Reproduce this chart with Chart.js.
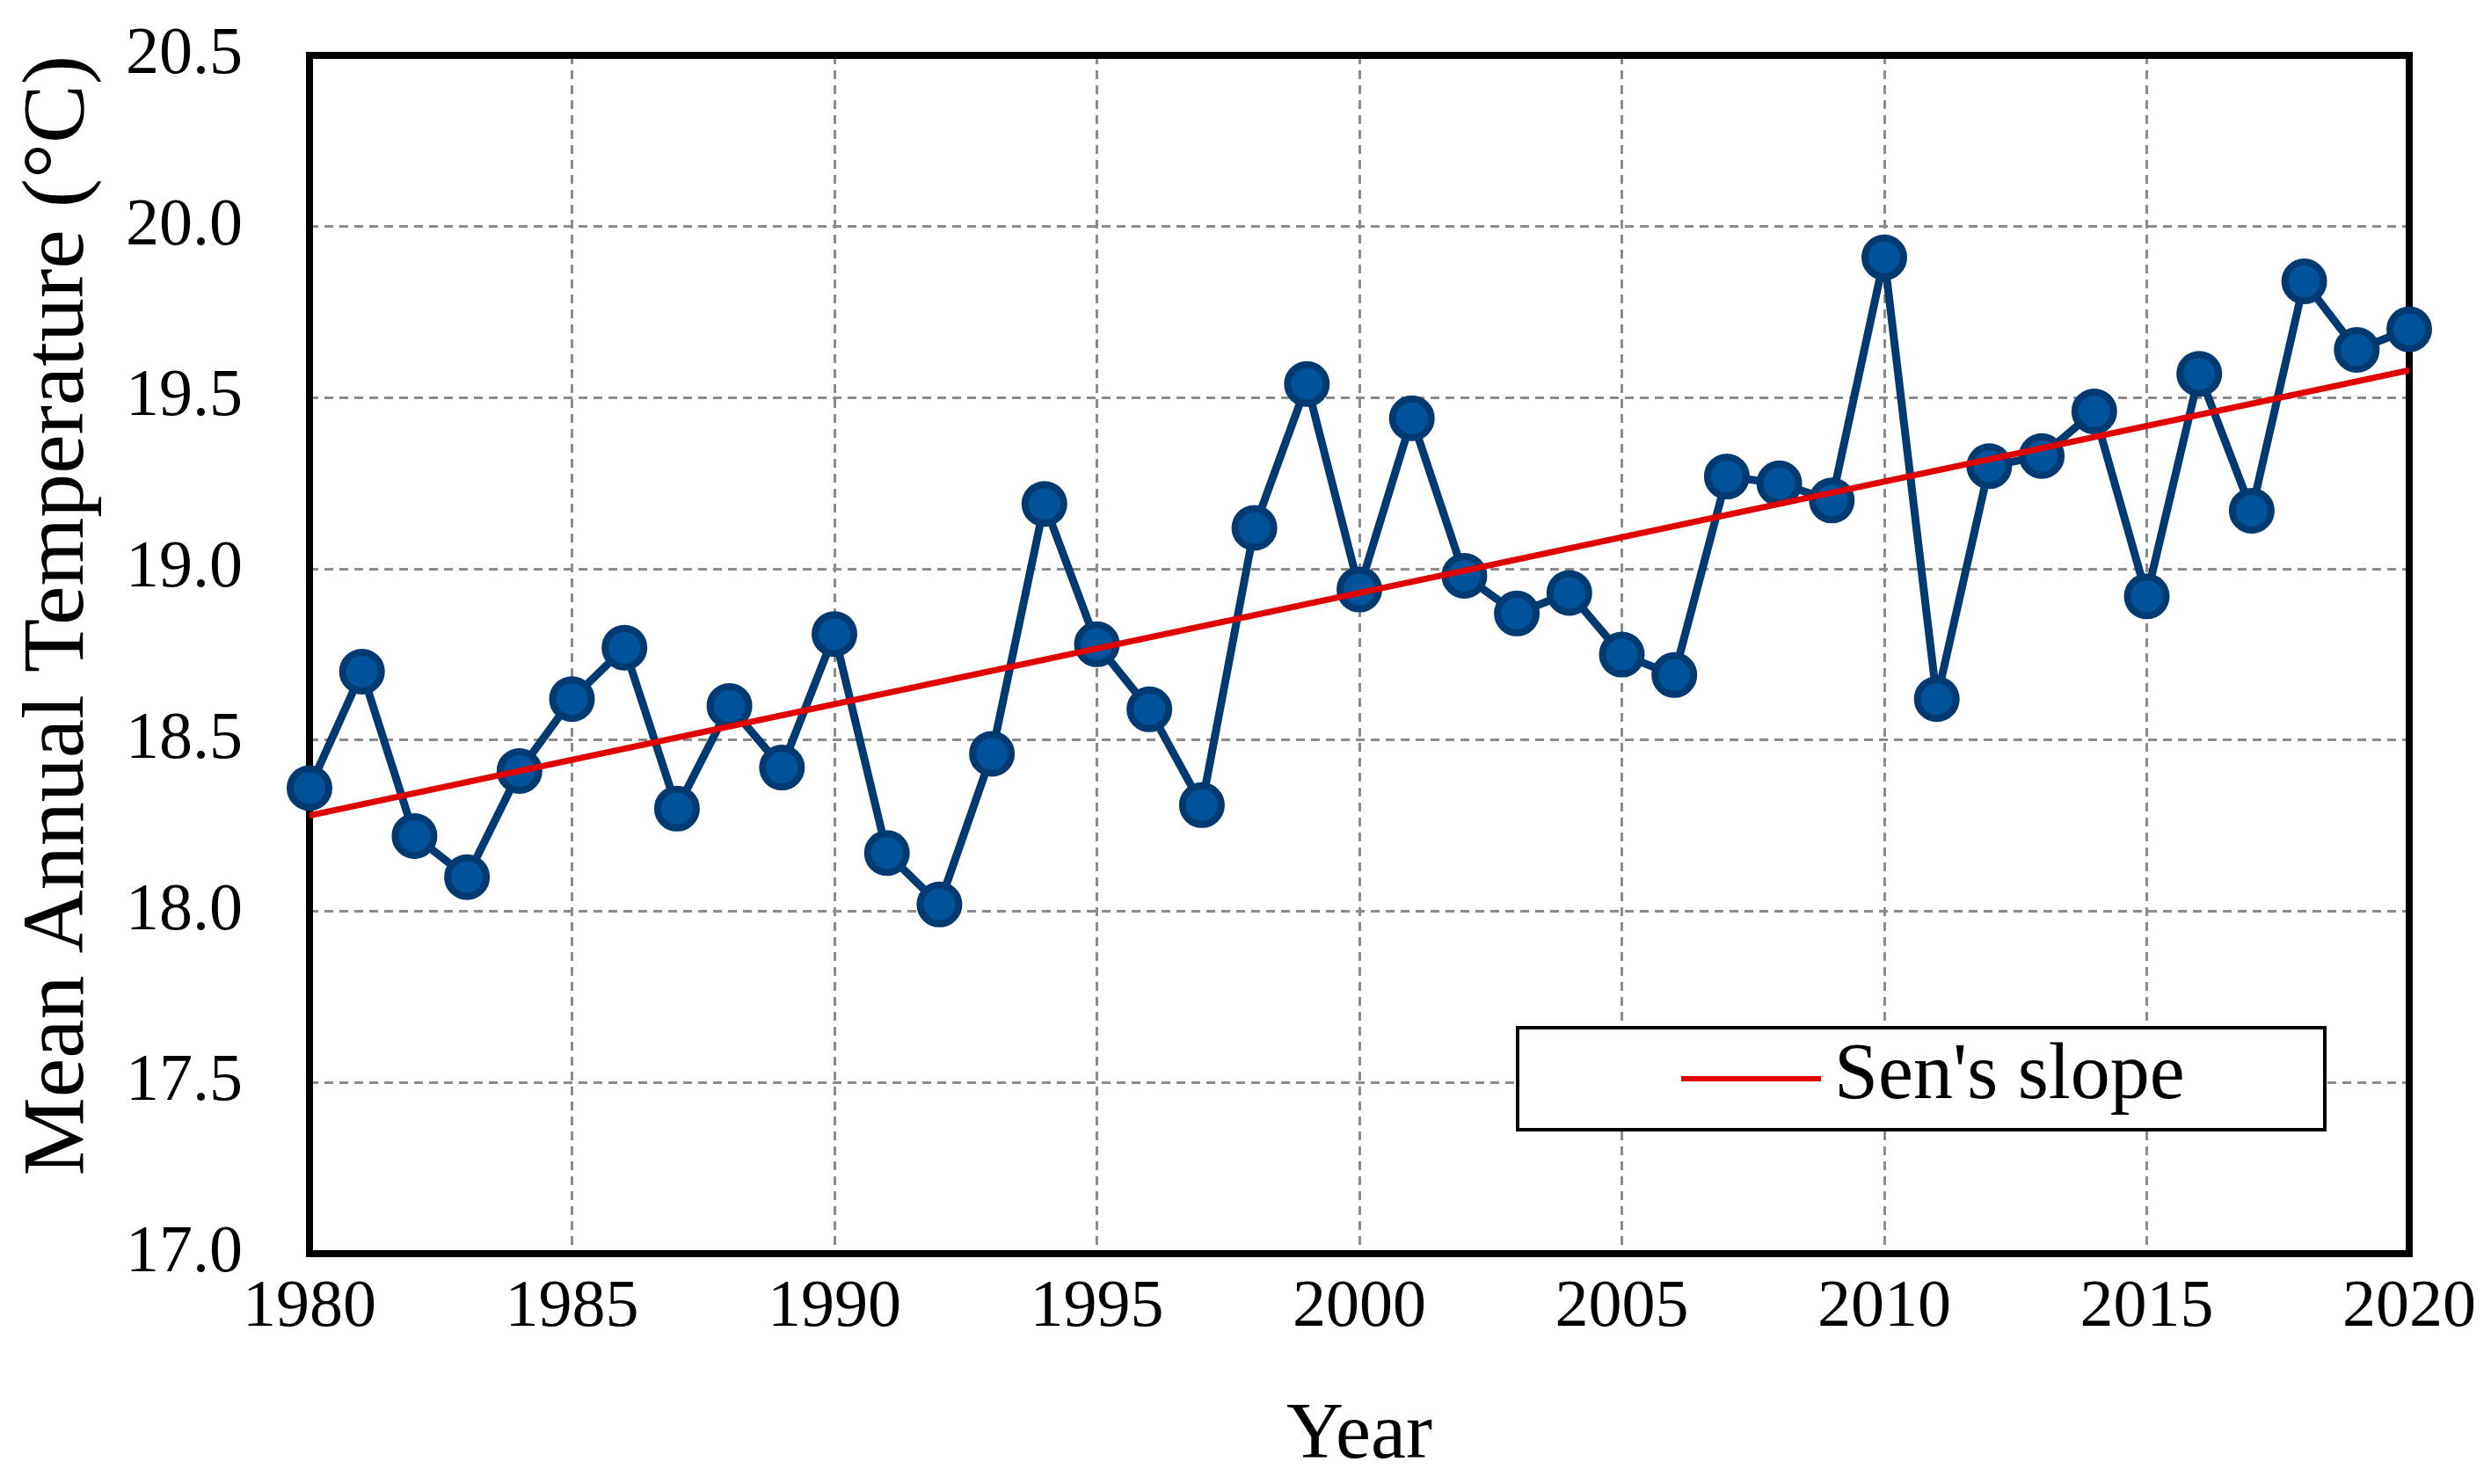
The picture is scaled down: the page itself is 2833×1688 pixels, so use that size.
<!DOCTYPE html>
<html>
<head>
<meta charset="utf-8">
<script src="https://cdn.jsdelivr.net/npm/chart.js@4.4.1/dist/chart.umd.min.js"></script>
<style>
  html, body { margin: 0; padding: 0; background: #fff; }
  #grafica { display: block; }
</style>
</head>
<body>
<canvas id="grafica" width="2833" height="1688"></canvas>
<script>
// datos
const anios = [1980, 1981, 1982, 1983, 1984, 1985, 1986, 1987, 1988, 1989,
  1990, 1991, 1992, 1993, 1994, 1995, 1996, 1997, 1998, 1999,
  2000, 2001, 2002, 2003, 2004, 2005, 2006, 2007, 2008, 2009,
  2010, 2011, 2012, 2013, 2014, 2015, 2016, 2017, 2018, 2019, 2020];
const temperatura = [18.36, 18.70, 18.22, 18.10, 18.41, 18.62, 18.77, 18.30, 18.60, 18.42,
  18.81, 18.17, 18.02, 18.46, 19.19, 18.78, 18.59, 18.31, 19.12, 19.54,
  18.94, 19.44, 18.98, 18.87, 18.93, 18.75, 18.69, 19.27, 19.25, 19.20,
  19.91, 18.62, 19.30, 19.33, 19.46, 18.92, 19.57, 19.17, 19.84, 19.64, 19.70];
const senAnios = [1980, 2020];
const senValores = [18.28, 19.58];
const ticksY = [17.0, 17.5, 18.0, 18.5, 19.0, 19.5, 20.0, 20.5];
const ticksX = [1980, 1985, 1990, 1995, 2000, 2005, 2010, 2015, 2020];

const fuente = "'Palatino Linotype', 'Book Antiqua', Palatino, 'Liberation Serif', serif";

// marco negro alrededor del area
const marco = {
  id: 'marco',
  beforeDatasetsDraw(chart) {
    const { ctx, chartArea: a } = chart;
    ctx.save();
    ctx.strokeStyle = '#000';
    ctx.lineWidth = 8;
    ctx.strokeRect(a.left, a.top, a.right - a.left, a.bottom - a.top);
    ctx.restore();
  }
};

// leyenda dentro del grafico
const leyenda = {
  id: 'leyenda',
  afterDatasetsDraw(chart) {
    const { ctx, chartArea: a } = chart;
    const ds = chart.data.datasets[0];
    const x0 = a.right - 918 - 96, y0 = a.bottom - 116 - 141;
    ctx.save();
    ctx.fillStyle = '#fff';
    ctx.fillRect(x0, y0, 918, 116);
    ctx.strokeStyle = '#000';
    ctx.lineWidth = 4;
    ctx.strokeRect(x0, y0, 918, 116);
    ctx.strokeStyle = ds.borderColor;
    ctx.lineWidth = 6;
    ctx.beginPath();
    ctx.moveTo(x0 + 186, y0 + 58);
    ctx.lineTo(x0 + 345, y0 + 58);
    ctx.stroke();
    ctx.fillStyle = '#000';
    ctx.font = '90px ' + fuente;
    ctx.textBaseline = 'middle';
    ctx.fillText(ds.label, x0 + 360, y0 + 56);
    ctx.restore();
  }
};

new Chart(document.getElementById('grafica'), {
  type: 'line',
  data: {
    datasets: [
      {
        label: "Sen's slope",
        data: senAnios.map((x, i) => ({ x: x, y: senValores[i] })),
        borderColor: '#e00000',
        borderWidth: 7,
        pointRadius: 0,
        fill: false,
        order: 0
      },
      {
        label: 'Mean Annual Temperature',
        data: anios.map((x, i) => ({ x: x, y: temperatura[i] })),
        borderColor: '#003a70',
        backgroundColor: '#00529b',
        borderWidth: 9,
        pointRadius: 22,
        pointBorderWidth: 8,
        pointBorderColor: '#003a70',
        pointBackgroundColor: '#00529b',
        tension: 0,
        clip: false,
        order: 1
      }
    ]
  },
  options: {
    responsive: false,
    devicePixelRatio: 1,
    animation: false,
    layout: { autoPadding: false, padding: { top: 63, right: 93, left: 0, bottom: 0 } },
    plugins: { legend: { display: false }, tooltip: { enabled: false } },
    scales: {
      x: {
        type: 'linear',
        min: 1980, max: 2020,
        afterBuildTicks: s => { s.ticks = ticksX.map(v => ({ value: v })); },
        afterFit: s => { s.height = 262; },
        ticks: { color: '#000', padding: 16, font: { family: fuente, size: 76 }, callback: v => String(v), maxRotation: 0 },
        grid: { color: '#8c8c8c', lineWidth: 3, drawTicks: false },
        border: { display: false, dash: [10, 7] },
        title: { display: true, text: 'Year', color: '#000', font: { family: fuente, size: 90 }, padding: 0 }
      },
      y: {
        min: 17, max: 20.5,
        afterBuildTicks: s => { s.ticks = ticksY.map(v => ({ value: v })); },
        afterFit: s => { s.width = 352; },
        ticks: { color: '#000', padding: 10, font: { family: fuente, size: 76 }, callback: v => v.toFixed(1) },
        grid: { color: '#8c8c8c', lineWidth: 3, drawTicks: true, tickLength: 66, tickColor: 'rgba(0,0,0,0)' },
        border: { display: false, dash: [10, 7] },
        title: { display: true, text: 'Mean Annual Temperature (°C)', align: 'end', color: '#000', font: { family: fuente, size: 100 }, padding: { top: 8, bottom: 0 } }
      }
    }
  },
  plugins: [marco, leyenda]
});
</script>
</body>
</html>
